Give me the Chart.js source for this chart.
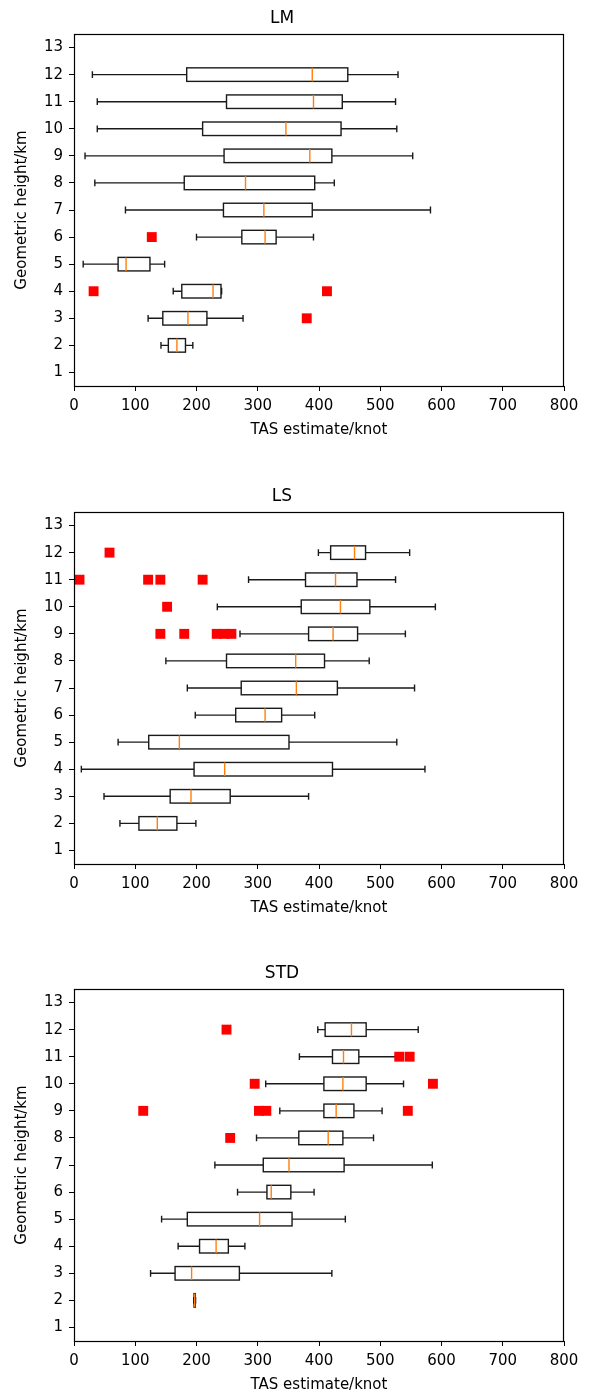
<!DOCTYPE html>
<html>
<head>
<meta charset="utf-8">
<script src="https://cdn.jsdelivr.net/npm/chart.js@4.4.0/dist/chart.umd.min.js"></script>
<style>
  body { margin: 0; background: #fff; overflow: hidden; }
  canvas { display: block; position: absolute; left: 0; }
</style>
</head>
<body>
<canvas id="lm" width="594" height="478" style="top:0px"></canvas>
<canvas id="ls" width="594" height="478" style="top:478px"></canvas>
<canvas id="std" width="594" height="478" style="top:955px"></canvas>
<script>
// heights (km) that have a box, bottom to top
const heights = [2, 3, 4, 5, 6, 7, 8, 9, 10, 11, 12];
const heightTicks = [1, 2, 3, 4, 5, 6, 7, 8, 9, 10, 11, 12, 13];
const tasTicks = [0, 100, 200, 300, 400, 500, 600, 700, 800];

// LM: whisker low, Q1, median, Q3, whisker high (knot)
const lmLow  = [142, 121, 162,  15, 200,  84,  34,  18,  38,  38,  30];
const lmQ1   = [154, 145, 176,  72, 274, 244, 180, 245, 210, 249, 184];
const lmMed  = [168, 186, 227,  85, 312, 310, 280, 385, 346, 391, 389];
const lmQ3   = [182, 217, 240, 124, 330, 389, 393, 421, 436, 438, 447];
const lmHigh = [194, 276, 241, 148, 391, 582, 425, 553, 527, 525, 529];
const lmOutH = [3, 4, 4, 6];
const lmOutV = [380, 32, 413, 127];

// LS
const lsLow  = [ 75,  49,  12,  72, 198, 185, 150, 271, 234, 285, 399];
const lsQ1   = [106, 157, 196, 122, 264, 273, 249, 383, 371, 378, 419];
const lsMed  = [136, 191, 246, 172, 312, 363, 362, 423, 435, 427, 458];
const lsQ3   = [168, 255, 422, 351, 339, 430, 409, 463, 483, 462, 476];
const lsHigh = [199, 383, 573, 527, 393, 556, 482, 541, 590, 525, 548];
const lsOutH = [9, 9, 9, 9, 9, 10, 11, 11, 11, 11, 12];
const lsOutV = [141, 180, 233, 245, 257, 152, 9, 121, 141, 210, 58];

// STD
const stdLow  = [195.5, 125, 170, 143, 267, 230, 298, 336, 313, 368, 398];
const stdQ1   = [196,   165, 205, 185, 315, 309, 367, 408, 408, 422, 410];
const stdMed  = [197,   192, 232, 303, 322, 351, 415, 428, 439, 440, 453];
const stdQ3   = [198,   270, 252, 356, 354, 441, 439, 457, 477, 465, 477];
const stdHigh = [198.5, 421, 279, 443, 392, 585, 489, 503, 538, 525, 562];
const stdOutH = [8, 9, 9, 9, 9, 10, 10, 11, 11, 12];
const stdOutV = [255, 113, 302, 314, 545, 295, 586, 531, 548, 249];

Chart.defaults.font.family = 'DejaVu Sans';
Chart.defaults.color = '#000';

// draws whiskers, boxes and medians under the flier points
function boxPlugin(s) {
  return {
    id: 'boxes',
    beforeDatasetsDraw(chart) {
      const ctx = chart.ctx, x = chart.scales.x, y = chart.scales.y;
      const half = Math.abs(y.getPixelForValue(0.25) - y.getPixelForValue(0));
      const cap = half / 2;
      ctx.save();
      ctx.lineWidth = 1.4;
      heights.forEach((h, i) => {
        const yc = y.getPixelForValue(h);
        const lo = x.getPixelForValue(s.low[i]);
        const a = x.getPixelForValue(s.q1[i]);
        const m = x.getPixelForValue(s.med[i]);
        const b = x.getPixelForValue(s.q3[i]);
        const hi = x.getPixelForValue(s.high[i]);
        ctx.strokeStyle = '#1a1a1a';
        ctx.beginPath();
        ctx.moveTo(lo, yc); ctx.lineTo(a, yc);
        ctx.moveTo(b, yc); ctx.lineTo(hi, yc);
        ctx.moveTo(lo, yc - cap); ctx.lineTo(lo, yc + cap);
        ctx.moveTo(hi, yc - cap); ctx.lineTo(hi, yc + cap);
        ctx.stroke();
        ctx.strokeRect(a, yc - half, b - a, 2 * half);
        ctx.strokeStyle = '#ff7f0e';
        ctx.beginPath();
        ctx.moveTo(m, yc - half); ctx.lineTo(m, yc + half);
        ctx.stroke();
      });
      ctx.restore();
    }
  };
}

// full box around the plot area
const framePlugin = {
  id: 'frame',
  afterDraw(chart) {
    const { ctx, chartArea: c } = chart;
    ctx.save();
    ctx.strokeStyle = '#000';
    ctx.lineWidth = 1.2;
    ctx.strokeRect(Math.round(c.left) + 0.5, Math.round(c.top) + 0.5,
      Math.round(c.right - c.left) - 1, Math.round(c.bottom - c.top));
    ctx.restore();
  }
};

function makeChart(id, title, s) {
  const fliers = s.outV.map((v, i) => ({ x: v, y: s.outH[i] }));
  new Chart(document.getElementById(id), {
    type: 'scatter',
    plugins: [boxPlugin(s), framePlugin],
    data: {
      datasets: [{
        data: fliers,
        pointStyle: 'rect',
        pointRadius: 7,
        borderWidth: 0,
        backgroundColor: '#ff0000',
        borderColor: '#ff0000'
      }]
    },
    options: {
      responsive: false,
      animation: false,
      events: [],
      layout: { padding: { left: 0, right: 30, top: 0, bottom: 0 } },
      plugins: {
        legend: { display: false },
        tooltip: { enabled: false },
        title: {
          display: true,
          text: title,
          color: '#000',
          font: { size: 17, weight: 'normal' },
          padding: { top: 8, bottom: 5.6 }
        }
      },
      scales: {
        x: {
          type: 'linear',
          min: 0,
          max: 800,
          afterBuildTicks: ax => { ax.ticks = tasTicks.map(v => ({ value: v })); },
          afterFit: ax => { ax.height = 92; },
          grid: { drawOnChartArea: false, tickLength: 5, color: '#000' },
          border: { display: false },
          ticks: { font: { size: 15 }, padding: 6, maxRotation: 0 },
          title: {
            display: true,
            text: 'TAS estimate/knot',
            font: { size: 15 },
            padding: { top: 0, bottom: 39 }
          }
        },
        y: {
          type: 'linear',
          min: 0.5,
          max: 13.5,
          afterBuildTicks: ax => { ax.ticks = heightTicks.map(v => ({ value: v })); },
          afterFit: ax => { ax.width = 74; },
          grid: { drawOnChartArea: false, tickLength: 5, color: '#000' },
          border: { display: false },
          ticks: { font: { size: 15 }, padding: 6 },
          title: {
            display: true,
            text: 'Geometric height/km',
            font: { size: 15 },
            padding: { top: 13, bottom: 0 }
          }
        }
      }
    }
  });
}

makeChart('lm', 'LM', { low: lmLow, q1: lmQ1, med: lmMed, q3: lmQ3, high: lmHigh, outH: lmOutH, outV: lmOutV });
makeChart('ls', 'LS', { low: lsLow, q1: lsQ1, med: lsMed, q3: lsQ3, high: lsHigh, outH: lsOutH, outV: lsOutV });
makeChart('std', 'STD', { low: stdLow, q1: stdQ1, med: stdMed, q3: stdQ3, high: stdHigh, outH: stdOutH, outV: stdOutV });
</script>
</body>
</html>
